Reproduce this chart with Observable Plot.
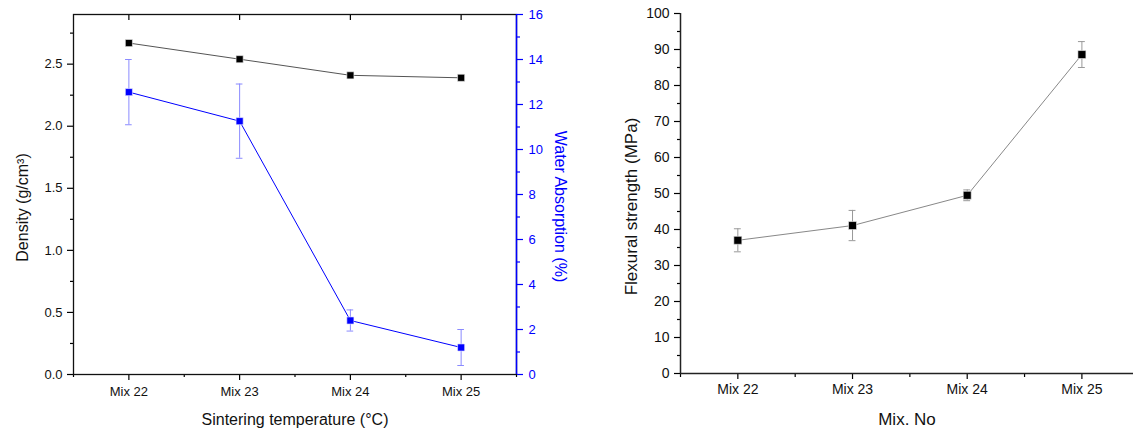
<!DOCTYPE html>
<html><head><meta charset="utf-8">
<script src="https://cdn.jsdelivr.net/npm/d3@7"></script>
<script src="https://cdn.jsdelivr.net/npm/@observablehq/plot@0.6"></script>
<style>
body{margin:0;background:#fff;overflow:hidden}
#wrap{position:relative;width:1133px;height:432px;font-family:"Liberation Sans",Arial,sans-serif}
#wrap svg{position:absolute;top:0}
</style></head><body><div id="wrap"></div>
<script>
const mixes = ["Mix 22", "Mix 23", "Mix 24", "Mix 25"];
const density = [2.67, 2.54, 2.41, 2.39];
const waterAbs = [12.55, 11.26, 2.40, 1.20];
const waterErr = [1.45, 1.65, 0.47, 0.80];
const flexural = [37.0, 41.1, 49.5, 88.6];
const flexErr = [3.2, 4.2, 1.5, 3.6];
const densityTicks = [0, 0.5, 1.0, 1.5, 2.0, 2.5];
const densityMinor = [0.25, 0.75, 1.25, 1.75, 2.25, 2.75];
const waterTicks = [0, 2, 4, 6, 8, 10, 12, 14, 16];
const waterMinor = [1, 3, 5, 7, 9, 11, 13, 15];
const flexTicks = [0, 10, 20, 30, 40, 50, 60, 70, 80, 90, 100];
const flexMinor = [5, 15, 25, 35, 45, 55, 65, 75, 85, 95];
const catTicks = [0, 1, 2, 3];
const halfTicks = [-0.5, 0.5, 1.5, 2.5, 3.5];

const FONT = '"Liberation Sans", Arial, sans-serif';
const dens = mixes.map((m, i) => ({i, v: density[i]}));
const wa = mixes.map((m, i) => ({i, v: waterAbs[i], e: waterErr[i]}));
const fl = mixes.map((m, i) => ({i, v: flexural[i], e: flexErr[i]}));
const blank = () => "";
const cap = 0.03;

const left = {width: 580, height: 432, marginLeft: 73, marginRight: 64, marginTop: 14, marginBottom: 58,
  style: {fontFamily: FONT, fontSize: "13px", background: "transparent", overflow: "visible"}};

const p1 = Plot.plot({
  ...left,
  x: {domain: [-0.5, 3.5]},
  y: {domain: [0, 2.9]},
  marks: [
    Plot.axisX({ticks: catTicks, tickFormat: i => mixes[i], tickSize: 6, tickPadding: 6, label: null, strokeWidth: 1.2, fill: "#111"}),
    Plot.axisX({ticks: halfTicks, tickFormat: blank, tickSize: 3, label: null, strokeWidth: 1.2}),
    Plot.axisX({anchor: "top", ticks: catTicks, tickFormat: blank, tickSize: -5, label: null, strokeWidth: 1.2}),
    Plot.axisY({ticks: densityTicks, tickFormat: d3.format(".1f"), tickSize: 6, tickPadding: 5, label: null, strokeWidth: 1.2, fill: "#111"}),
    Plot.axisY({ticks: densityMinor, tickFormat: blank, tickSize: 3, label: null, strokeWidth: 1.2}),
    Plot.frame({stroke: "#111", strokeWidth: 1.3}),
    Plot.line(dens, {x: "i", y: "v", stroke: "#555", strokeWidth: 1}),
    Plot.dot(dens, {x: "i", y: "v", symbol: "square", r: 4, fill: "black", stroke: "#eee", strokeWidth: 0.6}),
    Plot.text(["Density (g/cm³)"], {text: d => d, frameAnchor: "left", textAnchor: "middle", lineAnchor: "middle", rotate: -90, dx: -51, dy: 13, fontSize: 16, fill: "#111"}),
    Plot.text(["Sintering temperature (°C)"], {text: d => d, frameAnchor: "bottom", textAnchor: "middle", lineAnchor: "middle", dy: 45, fontSize: 16, fill: "#111"})
  ]
});

const p2 = Plot.plot({
  ...left,
  x: {domain: [-0.5, 3.5], axis: null},
  y: {domain: [0, 16], axis: null},
  marks: [
    Plot.axisY({anchor: "right", ticks: waterTicks, tickSize: 6, tickPadding: 6, label: null, color: "#0000ff", strokeWidth: 1.2}),
    Plot.axisY({anchor: "right", ticks: waterMinor, tickFormat: blank, tickSize: 3, label: null, color: "#0000ff", strokeWidth: 1.2}),
    Plot.ruleX([3.5], {stroke: "#0000ff", strokeWidth: 1.5}),
    Plot.ruleX(wa, {x: "i", y1: d => d.v - d.e, y2: d => d.v + d.e, stroke: "#8a8aff", strokeWidth: 1}),
    Plot.ruleY(wa, {y: d => d.v + d.e, x1: d => d.i - cap, x2: d => d.i + cap, stroke: "#8a8aff", strokeWidth: 1}),
    Plot.ruleY(wa, {y: d => d.v - d.e, x1: d => d.i - cap, x2: d => d.i + cap, stroke: "#8a8aff", strokeWidth: 1}),
    Plot.line(wa, {x: "i", y: "v", stroke: "#0000ff", strokeWidth: 1}),
    Plot.dot(wa, {x: "i", y: "v", symbol: "square", r: 4, fill: "#0000ff", stroke: "#eef", strokeWidth: 0.6}),
    Plot.text(["Water Absorption (%)"], {text: d => d, frameAnchor: "right", textAnchor: "middle", lineAnchor: "middle", rotate: 90, dx: 44, dy: 12, fontSize: 16, fill: "#0000ff"})
  ]
});

const p3 = Plot.plot({
  width: 553, height: 432, marginLeft: 100, marginRight: 0, marginTop: 13, marginBottom: 59,
  style: {fontFamily: FONT, fontSize: "14px", background: "transparent", overflow: "visible"},
  x: {domain: [-0.5, 3.45]},
  y: {domain: [0, 100]},
  marks: [
    Plot.axisX({ticks: catTicks, tickFormat: i => mixes[i], tickSize: 6, tickPadding: 5, label: null, strokeWidth: 1.2, fill: "#111"}),
    Plot.axisX({ticks: halfTicks.slice(0, 4), tickFormat: blank, tickSize: 4, label: null, strokeWidth: 1.2}),
    Plot.axisY({ticks: flexTicks, tickSize: 6, tickPadding: 5, label: null, strokeWidth: 1.2, fill: "#111"}),
    Plot.axisY({ticks: flexMinor, tickFormat: blank, tickSize: 3, label: null, strokeWidth: 1.2}),
    Plot.ruleX([-0.5], {stroke: "#222", strokeWidth: 1.5}),
    Plot.ruleY([0], {stroke: "#222", strokeWidth: 1.5}),
    Plot.ruleX(fl, {x: "i", y1: d => d.v - d.e, y2: d => d.v + d.e, stroke: "#999", strokeWidth: 1}),
    Plot.ruleY(fl, {y: d => d.v + d.e, x1: d => d.i - cap, x2: d => d.i + cap, stroke: "#999", strokeWidth: 1}),
    Plot.ruleY(fl, {y: d => d.v - d.e, x1: d => d.i - cap, x2: d => d.i + cap, stroke: "#999", strokeWidth: 1}),
    Plot.line(fl, {x: "i", y: "v", stroke: "#888", strokeWidth: 1}),
    Plot.dot(fl, {x: "i", y: "v", symbol: "square", r: 4.5, fill: "black", stroke: "#eee", strokeWidth: 0.6}),
    Plot.text(["Flexural strength (MPa)"], {text: d => d, frameAnchor: "left", textAnchor: "middle", lineAnchor: "middle", rotate: -90, dx: -49, dy: 13, fontSize: 17, fill: "#111"}),
    Plot.text(["Mix. No"], {text: d => d, frameAnchor: "bottom", textAnchor: "middle", lineAnchor: "middle", dy: 46, fontSize: 17, fill: "#111"})
  ]
});

const wrap = document.getElementById("wrap");
p1.style.left = "0px";
p2.style.left = "0px";
p3.style.left = "580px";
wrap.append(p1, p2, p3);
</script>
</body></html>
